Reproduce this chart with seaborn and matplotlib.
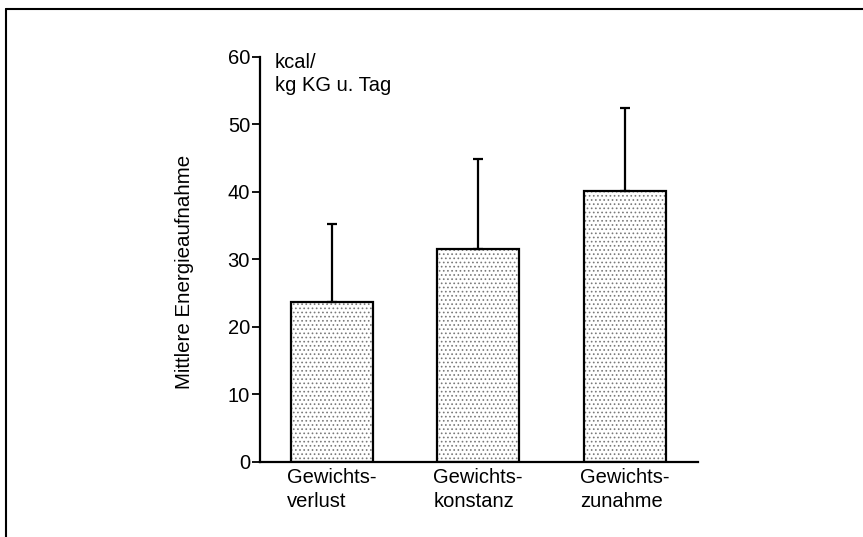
import numpy as np
import pandas as pd
import seaborn as sns
import matplotlib.pyplot as plt
from matplotlib.lines import Line2D

# data
groups = ['Gewichts-\nverlust', 'Gewichts-\nkonstanz', 'Gewichts-\nzunahme']
means = [23.7, 31.6, 40.1]
upper = [35.3, 44.9, 52.4]   # top of the (one-sided) error bar

df = pd.DataFrame({'group': groups, 'mean': means})

sns.set_theme(style='white')
plt.rcParams['font.family'] = ['Liberation Sans', 'DejaVu Sans']
plt.rcParams['hatch.linewidth'] = 0.7
plt.rcParams['text.color'] = 'black'
plt.rcParams['axes.labelcolor'] = 'black'
plt.rcParams['xtick.color'] = 'black'
plt.rcParams['ytick.color'] = 'black'

fig = plt.figure(figsize=(8.63, 5.37), dpi=100)
ax = fig.add_axes([0.301, 0.1397, 0.508, 0.7543])

# stippled fill
sns.barplot(data=df, x='group', y='mean', ax=ax, width=0.56,
            color='white', edgecolor='#7a7a7a', linewidth=0, errorbar=None)
for p in ax.patches:
    p.set_hatch('....')
# black outline on top
sns.barplot(data=df, x='group', y='mean', ax=ax, width=0.56, fill=False,
            edgecolor='black', linewidth=1.6, errorbar=None)

# upward-only error bars
err = np.array(upper) - np.array(means)
ax.errorbar(np.arange(len(groups)), means,
            yerr=[np.zeros(len(groups)), err],
            fmt='none', ecolor='black', elinewidth=1.6, capsize=3.6,
            capthick=1.6, zorder=1)

ax.set_xlim(-0.49, 2.5)
ax.set_ylim(0, 60)
ax.set_yticks([0, 10, 20, 30, 40, 50, 60])
ax.set_xlabel('')
ax.set_ylabel('Mittlere Energieaufnahme', fontsize=14.8)
ax.yaxis.set_label_coords(-0.15, 0.47)
ax.tick_params(axis='y', direction='out', length=6, width=1.3, pad=1,
               labelsize=14.5, left=True)
ax.tick_params(axis='x', length=0, labelsize=14.5, pad=4)
for lbl in ax.get_xticklabels():
    lbl.set_horizontalalignment('center')
    lbl.set_multialignment('left')
    lbl.set_linespacing(1.35)

for s in ['top', 'right']:
    ax.spines[s].set_visible(False)
for s in ['left', 'bottom']:
    ax.spines[s].set_color('black')
    ax.spines[s].set_linewidth(1.6)

ax.text(0.035, 1.01, 'kcal/\nkg KG u. Tag', transform=ax.transAxes,
        fontsize=14.5, va='top', ha='left', linespacing=1.25)

# scanned frame (top and left edges)
fig.add_artist(Line2D([6 / 863, 1], [1 - 9 / 537, 1 - 9 / 537],
                      transform=fig.transFigure, color='black', lw=1.5))
fig.add_artist(Line2D([6 / 863, 6 / 863], [0, 1 - 9 / 537],
                      transform=fig.transFigure, color='black', lw=1.5))

fig.savefig('out.png', dpi=100)
